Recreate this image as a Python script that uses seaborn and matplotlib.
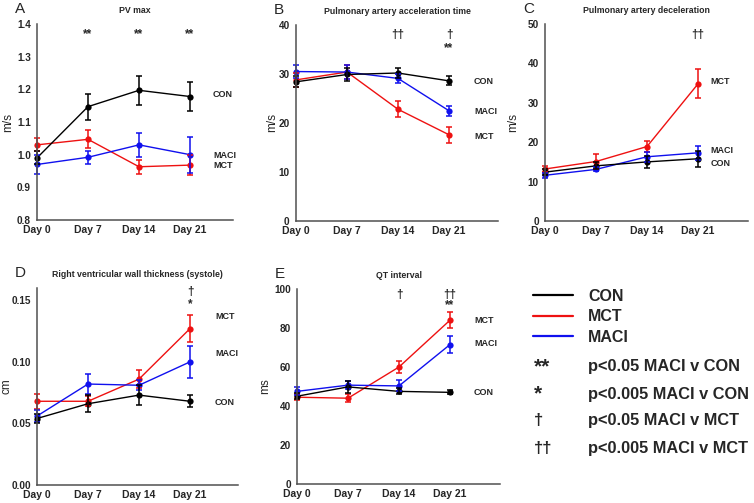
import numpy as np
import pandas as pd
import matplotlib
matplotlib.use("Agg")
import matplotlib.pyplot as plt
import seaborn as sns
from matplotlib.lines import Line2D

sns.set_style("white")
plt.rcParams['font.family'] = ['Liberation Sans', 'DejaVu Sans']

days = ['Day 0', 'Day 7', 'Day 14', 'Day 21']
groups = ['MCT', 'MACI', 'CON']
colors = {'CON': 'black', 'MCT': '#ee1111', 'MACI': '#1010ee'}

# A - PV max (m/s)
pv_con = [0.990, 1.147, 1.197, 1.178]
pv_con_err = [0.020, 0.040, 0.044, 0.044]
pv_mct = [1.030, 1.047, 0.963, 0.968]
pv_mct_err = [0.020, 0.028, 0.022, 0.030]
pv_maci = [0.970, 0.992, 1.030, 1.000]
pv_maci_err = [0.030, 0.020, 0.036, 0.055]

# B - Pulmonary artery acceleration time
pat_con = [28.4, 29.9, 30.2, 28.6]
pat_con_err = [1.1, 1.3, 1.1, 0.9]
pat_mct = [28.8, 30.4, 22.8, 17.6]
pat_mct_err = [1.5, 1.5, 1.6, 1.6]
pat_maci = [30.5, 30.4, 29.1, 22.5]
pat_maci_err = [1.3, 1.5, 0.9, 1.0]

# C - Pulmonary artery deceleration
pad_con = [12.4, 14.0, 15.0, 15.8]
pad_con_err = [0.7, 0.9, 1.5, 2.0]
pad_mct = [13.2, 15.1, 18.9, 34.8]
pad_mct_err = [0.8, 1.8, 1.5, 3.7]
pad_maci = [11.6, 13.1, 16.3, 17.3]
pad_maci_err = [0.6, 0.5, 1.2, 1.8]

# D - RV wall thickness (systole), cm
rv_con = [0.054, 0.066, 0.073, 0.068]
rv_con_err = [0.004, 0.007, 0.008, 0.005]
rv_mct = [0.068, 0.068, 0.086, 0.127]
rv_mct_err = [0.006, 0.004, 0.007, 0.011]
rv_maci = [0.056, 0.082, 0.081, 0.100]
rv_maci_err = [0.005, 0.008, 0.004, 0.013]

# E - QT interval, ms
qt_con = [45.0, 49.8, 47.5, 47.0]
qt_con_err = [1.5, 3.0, 1.5, 1.0]
qt_mct = [44.5, 44.0, 60.0, 84.0]
qt_mct_err = [1.5, 2.0, 3.3, 4.2]
qt_maci = [47.5, 50.7, 50.3, 71.5]
qt_maci_err = [2.0, 2.2, 2.8, 4.3]

sig_symbols = ['**', '*', '\u2020', '\u2020\u2020']
sig_texts = ['p<0.05 MACI v CON', 'p<0.005 MACI v CON',
             'p<0.05 MACI v MCT', 'p<0.005 MACI v MCT']

W, H = 754, 503
fig = plt.figure(figsize=(W / 100, H / 100), dpi=100)


def px_axes(left, top, right, bottom):
    return fig.add_axes([left / W, 1 - bottom / H, (right - left) / W, (bottom - top) / H])


def draw_panel(ax, vals, errs, ylim, yticks, fmt, title, letter, ylabel, ylabel_px,
               label_pos, label_x, annots):
    rows = []
    for g in groups:
        for i, d in enumerate(days):
            rows.append({'group': g, 'pos': i, 'value': vals[g][i], 'err': errs[g][i]})
    df = pd.DataFrame(rows)
    sns.lineplot(data=df, x='pos', y='value', hue='group', hue_order=groups,
                 palette=colors, marker='o', markersize=4.5, markeredgewidth=0,
                 linewidth=1.0, errorbar=None, legend=False, ax=ax)
    for line in ax.lines:
        line.set_clip_on(False)
    for g in groups:
        sub = df[df.group == g]
        ax.errorbar(sub.pos, sub.value, yerr=sub.err, fmt='none', ecolor=colors[g],
                    elinewidth=1.1, capsize=2.5, capthick=1.1, clip_on=False)
    pos = ax.get_position()
    ax.set_xlim(0, (pos.width * W) / 51)
    ax.set_ylim(*ylim)
    ax.set_yticks(yticks)
    ax.set_yticklabels([fmt.format(t) for t in yticks])
    ax.set_xticks(range(len(days)))
    ax.set_xticklabels(days)
    for lab in ax.get_xticklabels():
        lab.set_fontweight('bold')
        lab.set_fontsize(7.5)
    for lab in ax.get_yticklabels():
        lab.set_fontweight('bold')
        lab.set_fontsize(7.2)
    ax.tick_params(axis='y', length=3, width=0.8, color='#505050', pad=1.5)
    ax.tick_params(axis='x', direction='in', length=2, width=0.8, color='#505050', pad=3.5)
    sns.despine(ax=ax)
    for s in ['left', 'bottom']:
        ax.spines[s].set_color('#505050')
        ax.spines[s].set_linewidth(1.1)
    ax.set_xlabel('')
    ax.set_ylabel(ylabel, fontsize=8.5, va='center')
    ax.yaxis.set_label_coords((ylabel_px - pos.x0 * W) / (pos.width * W), 0.5)
    ax.set_title(title, fontsize=6.3, fontweight='bold', pad=8)
    ax.text(-22 / (pos.width * W), 1.04, letter, transform=ax.transAxes,
            fontsize=11, va='bottom', ha='left')
    for g in groups:
        ax.text(label_x, label_pos[g], g, fontsize=6.5, fontweight='bold', va='center')
    for x, y, s in annots:
        ax.text(x, y, s, fontsize=8.5, fontweight='bold', ha='center', va='center')


axA = px_axes(37, 24, 233, 220)
draw_panel(axA,
           {'CON': pv_con, 'MCT': pv_mct, 'MACI': pv_maci},
           {'CON': pv_con_err, 'MCT': pv_mct_err, 'MACI': pv_maci_err},
           (0.8, 1.4), np.arange(0.8, 1.41, 0.1), '{:.1f}', 'PV max', 'A', 'm/s', 8,
           {'CON': 1.185, 'MACI': 0.998, 'MCT': 0.967}, 3.45,
           [(1, 1.37, '**'), (2, 1.37, '**'), (3, 1.37, '**')])

axB = px_axes(296, 25, 498, 221)
draw_panel(axB,
           {'CON': pat_con, 'MCT': pat_mct, 'MACI': pat_maci},
           {'CON': pat_con_err, 'MCT': pat_mct_err, 'MACI': pat_maci_err},
           (0, 40), [0, 10, 20, 30, 40], '{:.0f}', 'Pulmonary artery acceleration time', 'B',
           'm/s', 272,
           {'CON': 28.5, 'MACI': 22.3, 'MCT': 17.3}, 3.49,
           [(2, 38.0, '\u2020\u2020'), (3, 38.0, '\u2020'), (3, 35.2, '**')])

axC = px_axes(545, 24, 748, 221)
draw_panel(axC,
           {'CON': pad_con, 'MCT': pad_mct, 'MACI': pad_maci},
           {'CON': pad_con_err, 'MCT': pad_mct_err, 'MACI': pad_maci_err},
           (0, 50), [0, 10, 20, 30, 40, 50], '{:.0f}', 'Pulmonary artery deceleration', 'C',
           'm/s', 513,
           {'MCT': 35.3, 'MACI': 18.0, 'CON': 14.7}, 3.25,
           [(3, 47.2, '\u2020\u2020')])

axD = px_axes(37, 288, 238, 485)
draw_panel(axD,
           {'CON': rv_con, 'MCT': rv_mct, 'MACI': rv_maci},
           {'CON': rv_con_err, 'MCT': rv_mct_err, 'MACI': rv_maci_err},
           (0, 0.16), [0.0, 0.05, 0.10, 0.15], '{:.2f}', 'Right ventricular wall thickness (systole)',
           'D', 'cm', 6,
           {'MCT': 0.137, 'MACI': 0.107, 'CON': 0.067}, 3.49,
           [(3, 0.157, '\u2020'), (3, 0.147, '*')])

axE = px_axes(297, 289, 500, 484)
draw_panel(axE,
           {'CON': qt_con, 'MCT': qt_mct, 'MACI': qt_maci},
           {'CON': qt_con_err, 'MCT': qt_mct_err, 'MACI': qt_maci_err},
           (0, 100), [0, 20, 40, 60, 80, 100], '{:.0f}', 'QT interval', 'E', 'ms', 265,
           {'MCT': 84.0, 'MACI': 72.0, 'CON': 47.0}, 3.47,
           [(2, 97.0, '\u2020'), (3, 97.0, '\u2020\u2020'), (3, 91.5, '**')])

# legend
handles = [Line2D([], [], color=colors[g], lw=1.6) for g in ['CON', 'MCT', 'MACI']]
fig.legend(handles, ['CON', 'MCT', 'MACI'], loc='upper left',
           bbox_to_anchor=(533 / W, 1 - 289 / H), frameon=False,
           prop={'weight': 'bold', 'size': 11.5}, handlelength=2.5,
           handletextpad=0.95, labelspacing=0.33, borderaxespad=0, borderpad=0)

for i, (sym, txt) in enumerate(zip(sig_symbols, sig_texts)):
    y = 1 - (367 + i * 27) / H
    size = 15 if '*' in sym else 12
    fig.text(534 / W, y, sym, fontsize=size, fontweight='bold', va='center')
    fig.text(588 / W, y, txt, fontsize=11.8, fontweight='bold', va='center')

fig.savefig('out.png', dpi=100)
